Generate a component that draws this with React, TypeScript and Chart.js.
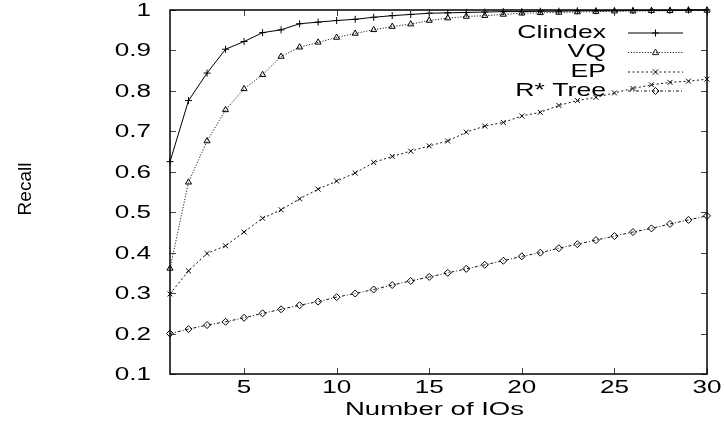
import React, { useEffect, useRef } from "react";
import { Chart, registerables } from "chart.js";

Chart.register(...registerables);

const ios = [1, 2, 3, 4, 5, 6, 7, 8, 9, 10, 11, 12, 13, 14, 15, 16, 17, 18, 19, 20, 21, 22, 23, 24, 25, 26, 27, 28, 29, 30];
const clindex = [0.625, 0.776, 0.844, 0.903, 0.922, 0.944, 0.951, 0.966, 0.970, 0.974, 0.977, 0.982, 0.986, 0.989, 0.992, 0.993, 0.994, 0.995, 0.996, 0.996, 0.997, 0.997, 0.998, 0.998, 0.998, 0.999, 0.999, 0.999, 1.0, 1.0];
const vq = [0.361, 0.574, 0.676, 0.753, 0.805, 0.840, 0.885, 0.908, 0.920, 0.932, 0.942, 0.951, 0.959, 0.965, 0.974, 0.980, 0.984, 0.986, 0.989, 0.992, 0.993, 0.994, 0.995, 0.996, 0.997, 0.997, 0.998, 0.998, 0.999, 0.999];
const ep = [0.298, 0.355, 0.398, 0.417, 0.451, 0.485, 0.506, 0.533, 0.557, 0.577, 0.597, 0.623, 0.638, 0.651, 0.664, 0.676, 0.698, 0.713, 0.722, 0.738, 0.747, 0.764, 0.776, 0.784, 0.795, 0.806, 0.815, 0.821, 0.824, 0.829];
const rstar = [0.200, 0.211, 0.221, 0.229, 0.239, 0.250, 0.260, 0.270, 0.279, 0.290, 0.299, 0.309, 0.320, 0.330, 0.340, 0.350, 0.360, 0.370, 0.380, 0.391, 0.400, 0.411, 0.421, 0.431, 0.441, 0.451, 0.460, 0.471, 0.481, 0.491];

const seriesNames = ["Clindex", "VQ", "EP", "R* Tree"];
const yTickValues = [0.1, 0.2, 0.3, 0.4, 0.5, 0.6, 0.7, 0.8, 0.9, 1];
const yTickLabels = ["0.1", "0.2", "0.3", "0.4", "0.5", "0.6", "0.7", "0.8", "0.9", "1"];
const xTickValues = [5, 10, 15, 20, 25, 30];
const xTickLabels = ["5", "10", "15", "20", "25", "30"];
const xTitle = "Number of IOs";
const yTitle = "Recall";

const FONT = '"Liberation Sans", Arial, sans-serif';

const styles = [
  { dash: [] as number[], color: "#000", point: "cross" },
  { dash: [1.2, 1.6], color: "#222", point: "triangle" },
  { dash: [2, 2.5], color: "#111", point: "crossRot" },
  { dash: [3, 2, 1, 2], color: "#111", point: "rectRot" },
];

function drawText(ctx: CanvasRenderingContext2D, s: string, x: number, y: number, size: number, sx: number, align: CanvasTextAlign) {
  ctx.save();
  ctx.font = `${size}px ${FONT}`;
  ctx.fillStyle = "#000";
  ctx.translate(x, y);
  ctx.scale(sx, 1);
  ctx.textAlign = align;
  ctx.textBaseline = "middle";
  ctx.fillText(s, 0, 0);
  ctx.restore();
}

function drawMarker(ctx: CanvasRenderingContext2D, kind: string, x: number, y: number, r: number) {
  ctx.beginPath();
  if (kind === "cross") {
    ctx.moveTo(x - r, y); ctx.lineTo(x + r, y);
    ctx.moveTo(x, y - r); ctx.lineTo(x, y + r);
  } else if (kind === "crossRot") {
    const d = r * 0.8;
    ctx.moveTo(x - d, y - d); ctx.lineTo(x + d, y + d);
    ctx.moveTo(x - d, y + d); ctx.lineTo(x + d, y - d);
  } else if (kind === "triangle") {
    ctx.moveTo(x, y - r); ctx.lineTo(x + r * 0.9, y + r * 0.6); ctx.lineTo(x - r * 0.9, y + r * 0.6); ctx.closePath();
  } else {
    ctx.moveTo(x, y - r); ctx.lineTo(x + r, y); ctx.lineTo(x, y + r); ctx.lineTo(x - r, y); ctx.closePath();
  }
  ctx.stroke();
}

const framePlugin = {
  id: "gnuplotFrame",
  afterDatasetsDraw(chart: any) {
    const ctx: CanvasRenderingContext2D = chart.ctx;
    const { left, right, top, bottom } = chart.chartArea;
    const xs = chart.scales.x;
    const ys = chart.scales.y;
    ctx.save();
    ctx.strokeStyle = "#444";
    ctx.lineWidth = 1;
    ctx.setLineDash([]);
    ctx.beginPath();
    yTickValues.forEach((v) => {
      const py = Math.round(ys.getPixelForValue(v)) + 0.5;
      ctx.moveTo(left, py); ctx.lineTo(left + 6, py);
      ctx.moveTo(right, py); ctx.lineTo(right - 6, py);
    });
    xTickValues.forEach((v) => {
      const px = Math.round(xs.getPixelForValue(v)) + 0.5;
      ctx.moveTo(px, bottom); ctx.lineTo(px, bottom - 6);
      ctx.moveTo(px, top); ctx.lineTo(px, top + 6);
    });
    ctx.stroke();
    ctx.strokeStyle = "#000";
    ctx.lineWidth = 1.5;
    ctx.strokeRect(left, top, right - left, bottom - top);
    ctx.restore();
  },
  afterDraw(chart: any) {
    const ctx: CanvasRenderingContext2D = chart.ctx;
    const { left, right, bottom } = chart.chartArea;
    const xs = chart.scales.x;
    const ys = chart.scales.y;
    yTickValues.forEach((v, i) => {
      drawText(ctx, yTickLabels[i], left - 19, ys.getPixelForValue(v) + 1, 18, 1.45, "right");
    });
    xTickValues.forEach((v, i) => {
      drawText(ctx, xTickLabels[i], xs.getPixelForValue(v), bottom + 14, 18, 1.45, "center");
    });
    drawText(ctx, xTitle, (left + right) / 2 - 4, bottom + 36, 19, 1.45, "center");
    ctx.save();
    ctx.font = `19px ${FONT}`;
    ctx.fillStyle = "#000";
    ctx.translate(26, 189);
    ctx.rotate(-Math.PI / 2);
    ctx.textAlign = "center";
    ctx.textBaseline = "middle";
    ctx.fillText(yTitle, 0, 0);
    ctx.restore();
    const rowY = [32, 51.5, 71, 90];
    seriesNames.forEach((name, i) => {
      const y = rowY[i];
      drawText(ctx, name, 606, y + 0.5, 19, 1.4, "right");
      ctx.save();
      ctx.strokeStyle = styles[i].color;
      ctx.lineWidth = 1;
      ctx.setLineDash(styles[i].dash);
      ctx.beginPath();
      ctx.moveTo(628, y + 1);
      ctx.lineTo(683, y + 1);
      ctx.stroke();
      ctx.setLineDash([]);
      drawMarker(ctx, styles[i].point, 655.5, y + 1, 3.5);
      ctx.restore();
    });
  },
};

export default function App() {
  const ref = useRef<HTMLCanvasElement | null>(null);
  useEffect(() => {
    if (!ref.current) return;
    const all = [clindex, vq, ep, rstar];
    const chart = new Chart(ref.current, {
      type: "line",
      data: {
        datasets: all.map((vals, i) => ({
          label: seriesNames[i],
          data: ios.map((x, j) => ({ x, y: vals[j] })),
          borderColor: styles[i].color,
          borderWidth: 1,
          borderDash: styles[i].dash,
          pointStyle: styles[i].point as any,
          pointRadius: 3.5,
          pointBorderWidth: 1,
          pointBorderColor: "#000",
          pointBackgroundColor: "rgba(255,255,255,0)",
          tension: 0,
          fill: false,
          clip: false as any,
        })),
      },
      options: {
        animation: false,
        responsive: false,
        maintainAspectRatio: false,
        layout: { padding: { left: 170, top: 10, right: 17, bottom: 51 } },
        plugins: { legend: { display: false }, tooltip: { enabled: false } },
        scales: {
          x: { type: "linear", min: 1, max: 30, display: false },
          y: { type: "linear", min: 0.1, max: 1, display: false },
        },
      },
      plugins: [framePlugin],
    });
    return () => chart.destroy();
  }, []);
  return (
    <div style={{ position: "fixed", left: 0, top: 0, width: 724, height: 425, background: "#fff" }}>
      <canvas ref={ref} width={724} height={425} style={{ width: 724, height: 425, display: "block" }} />
    </div>
  );
}
